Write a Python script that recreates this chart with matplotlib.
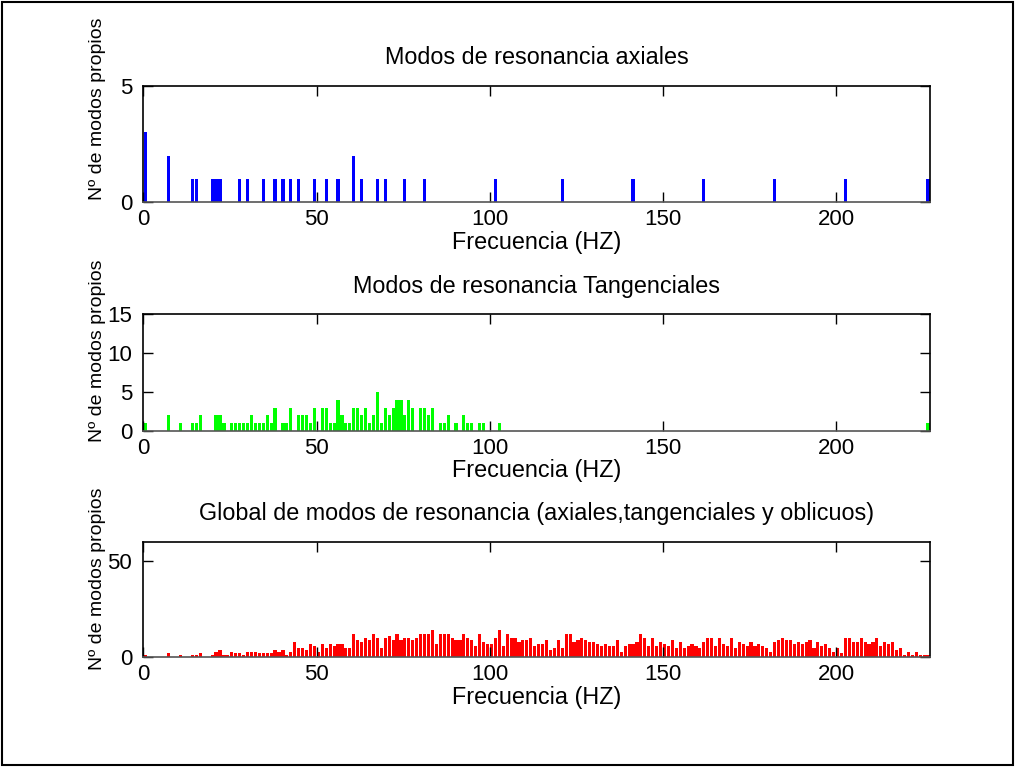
import matplotlib
matplotlib.use("Agg")
import matplotlib.pyplot as plt
from matplotlib.patches import Rectangle
import numpy as np

FS = 16
plt.rcParams.update({"font.family": ["Liberation Sans", "DejaVu Sans"], "font.size": FS})

# histogram grid: 200 bins between 0 and the highest mode frequency
F_MAX = 227.0
N_BINS = 200

# ── data: bin index -> number of modes ────────────────────────────────────────
axial_bins   = [0, 6, 12, 13, 17, 18, 19, 24, 26, 30, 33, 35, 37, 39, 43, 46, 49, 53, 55, 59, 61, 66, 71,
                89, 106, 124, 142, 160, 178, 199]
axial_counts = [3, 2, 1, 1, 1, 1, 1, 1, 1, 1, 1, 1, 1, 1, 1, 1, 1, 2, 1, 1, 1, 1, 1,
                1, 1, 1, 1, 1, 1, 1]

tang_bins   = [0, 6, 9, 12, 13, 14, 18, 19, 20, 22, 23, 24, 25, 26, 27, 28, 29, 30, 31, 32, 33, 35, 36, 37,
               39, 40, 41, 42, 43, 45, 46, 47, 48, 49, 50, 51, 52, 53, 54, 55, 56, 57, 58, 59, 60, 61, 62,
               63, 64, 65, 66, 67, 68, 70, 71, 72, 73, 75, 76, 77, 79, 81, 82, 83, 85, 86, 90, 199]
tang_counts = [1, 2, 1, 1, 1, 2, 2, 2, 1, 1, 1, 1, 1, 1, 2, 1, 1, 1, 2, 1, 3, 1, 1, 3,
               2, 2, 2, 1, 3, 3, 3, 1, 1, 4, 2, 1, 1, 3, 3, 2, 3, 1, 2, 5, 1, 3, 2,
               3, 4, 4, 2, 4, 3, 3, 3, 2, 3, 1, 1, 2, 1, 2, 1, 1, 1, 1, 1, 1]

global_counts = [1, 0, 0, 0, 0, 0, 2, 0, 0, 1, 0, 0, 1, 1, 2, 0, 0,
                 1, 3, 4, 1, 1, 3, 2, 2, 1, 3, 3, 3, 2, 2, 2, 2, 4, 3, 4, 1, 3, 8, 5, 5, 4, 7, 6, 3, 7, 5, 7, 6, 7,
                 7, 5, 5, 12, 9, 8, 10, 9, 12, 10, 5, 10, 11, 9, 12, 9, 10, 10, 9, 10, 12, 12, 12, 14, 7,
                 12, 12, 12, 10, 9, 9, 12, 10, 9, 6, 12, 8, 7, 7, 10, 14, 6, 12, 10, 10, 8, 9, 9, 10, 6,
                 7, 7, 9, 4, 5, 9, 5, 12, 12, 8, 9, 10, 9, 8, 8, 7, 6, 7, 6, 6, 9, 3, 6, 7, 7, 8, 12, 10, 6,
                 10, 6, 8, 7, 6, 9, 5, 8, 5, 6, 7, 6, 5, 8, 10, 10, 6, 10, 7, 6,
                 10, 5, 8, 7, 6, 8, 6, 7, 6, 5, 3, 8, 9, 10, 9, 9, 7, 8, 7, 8, 9, 5, 8, 6, 7, 5, 3, 5, 2,
                 10, 10, 8, 8, 10, 8, 7, 8, 10, 6, 8, 7, 8, 4, 5, 1, 3, 1, 3, 1, 1, 1]

edges = np.linspace(0, F_MAX, N_BINS + 1)
centers = (edges[:-1] + edges[1:]) / 2
bw = edges[1] - edges[0]

def to_full(bins, counts):
    full = np.zeros(N_BINS)
    full[np.array(bins)] = counts
    return full

W, H = 1016, 767
def px_axes(left, top, right, bottom):
    return [left / W, 1 - bottom / H, (right - left) / W, (bottom - top) / H]

# title, counts, colour, ymax, yticks, axes box (px), ylabel centre (px from top)
panels = [
    ("Modos de resonancia axiales", to_full(axial_bins, axial_counts), "#0000ff", 5, [0, 5],
     (143.3, 85.7, 930, 202.3), 109),
    ("Modos de resonancia Tangenciales", to_full(tang_bins, tang_counts), "#00ff00", 15, [0, 5, 10, 15],
     (143.3, 314, 930, 431), 351),
    ("Global de modos de resonancia (axiales,tangenciales y oblicuos)", np.array(global_counts, float), "#ff0000", 60, [0, 50],
     (143.3, 541.7, 930, 657.3), 579),
]

fig = plt.figure(figsize=(W / 100, H / 100), dpi=100)
fig.patches.append(Rectangle((0.002, 0.003), 0.995, 0.994, transform=fig.transFigure,
                             fill=False, ec="black", lw=1.5))

for title, counts, col, ymax, yt, box, ylab_px in panels:
    left, top_px, right, bot_px = box
    ax = fig.add_axes(px_axes(*box))
    ax.bar(centers, counts, width=0.8 * bw, color=col, edgecolor="none")
    ax.set_xlim(0, F_MAX); ax.set_ylim(0, ymax)
    ax.set_xticks([0, 50, 100, 150, 200]); ax.set_yticks(yt)
    ax.tick_params(direction="in", top=True, right=True, length=7, width=1, labelsize=FS, pad=5)
    ax.tick_params(axis="y", pad=8)
    for s in ax.spines.values():
        s.set_linewidth(1.2)
    ax.spines["bottom"].set_color("#555555")
    cx = (left + right) / 2 / W
    fig.text(cx, 1 - (top_px - 28) / H, title, ha="center", va="center", fontsize=16.8)
    fig.text(cx, 1 - (bot_px + 40) / H, "Frecuencia (HZ)", ha="center", va="center", fontsize=16.8)
    fig.text(97 / W, 1 - ylab_px / H, "Nº de modos propios", rotation=90,
             ha="center", va="center", fontsize=14)

fig.savefig("out.png", dpi=100)
